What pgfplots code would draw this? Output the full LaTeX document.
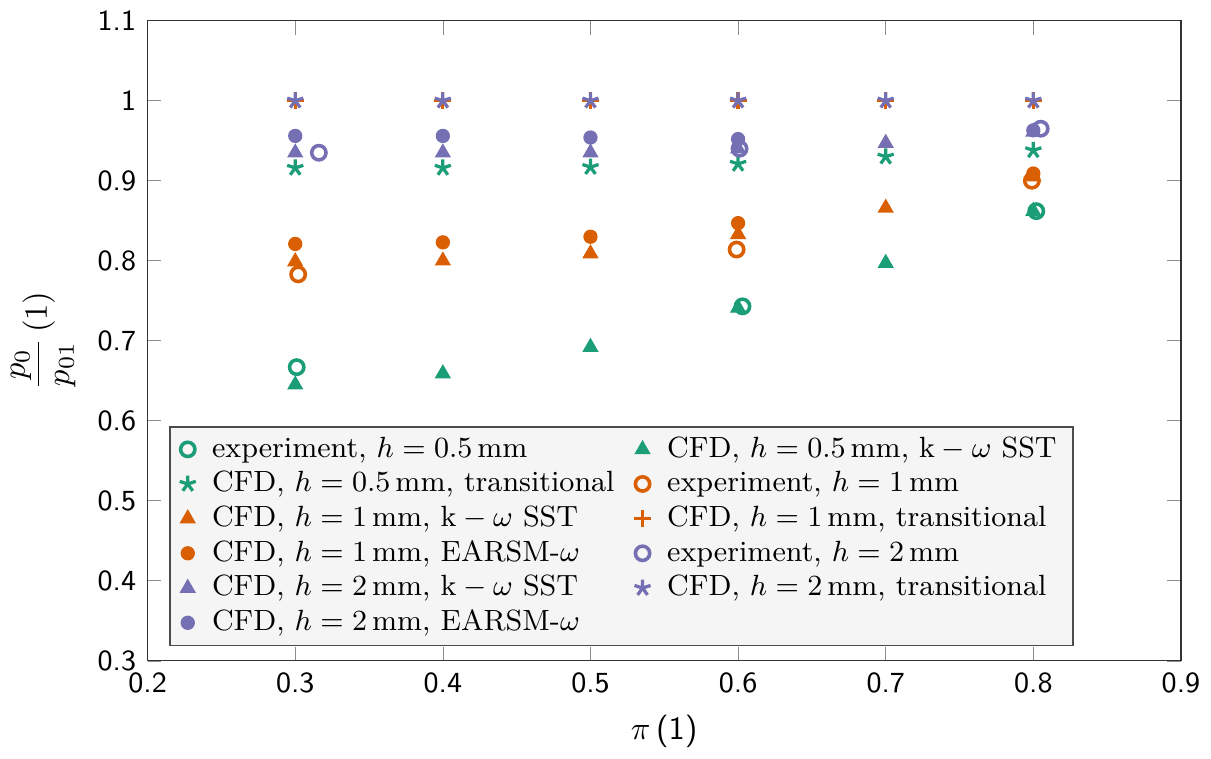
\documentclass[border=0pt]{standalone}
\usepackage{amsmath}
\usepackage{pgfplots}
\pgfplotsset{compat=1.18}
\usetikzlibrary{plotmarks}
\definecolor{cA}{HTML}{1B9E77}
\definecolor{cB}{HTML}{D95F02}
\definecolor{cC}{HTML}{7570B3}
\begin{document}
\begin{tikzpicture}
\begin{axis}[
  scale only axis,
  width=318pt, height=197pt,
  xmin=0.2, xmax=0.9, ymin=0.3, ymax=1.1,
  xtick={0.2,0.3,...,0.9}, ytick={0.3,0.4,...,1.1},
  axis line style={black!80},
  major tick style={black!45},
  tick label style={font=\sffamily\small},
  /pgf/number format/assume math mode=true,
  xlabel={$\pi$\,\textsf{(1)}},
  ylabel={$\dfrac{p_0}{p_{01}}\,(1)$},
  legend columns=2,
  legend cell align=left,
  legend style={at={(0.021,0.023)}, anchor=south west, fill=black!4, draw=black!70, font=\small, row sep=-1.2pt, inner ysep=1pt,
    /tikz/every odd column/.append style={column sep=3pt},
    /tikz/every even column/.append style={column sep=4pt}},
  only marks,
]
% exp 0.5
\addplot[cA, mark=o, mark size=2.2pt, line width=1.1pt] coordinates {(0.301,0.667) (0.603,0.743) (0.802,0.862)};
\addlegendentry{experiment, $h=0.5\,\mathrm{mm}$}
% CFD 0.5 SST
\addplot[cA, mark=triangle*, mark size=2.5pt] coordinates {(0.3,0.645) (0.4,0.659) (0.5,0.692) (0.6,0.741) (0.7,0.797) (0.8,0.862)};
\addlegendentry{CFD, $h=0.5\,\mathrm{mm}$, $\mathrm{k}-\omega$ SST}
% CFD 0.5 trans
\addplot[cA, mark=star, mark size=2.6pt, line width=1pt] coordinates {(0.3,0.916) (0.4,0.916) (0.5,0.917) (0.6,0.921) (0.7,0.930) (0.8,0.938)};
\addlegendentry{CFD, $h=0.5\,\mathrm{mm}$, transitional}
% exp 1
\addplot[cB, mark=o, mark size=2.2pt, line width=1.1pt] coordinates {(0.302,0.783) (0.599,0.814) (0.799,0.900)};
\addlegendentry{experiment, $h=1\,\mathrm{mm}$}
% CFD 1 SST
\addplot[cB, mark=triangle*, mark size=2.5pt] coordinates {(0.3,0.799) (0.4,0.800) (0.5,0.809) (0.6,0.833) (0.7,0.866) (0.8,0.905)};
\addlegendentry{CFD, $h=1\,\mathrm{mm}$, $\mathrm{k}-\omega$ SST}
% CFD 1 trans
\addplot[cB, mark=+, mark size=2.6pt, line width=1pt] coordinates {(0.3,1.0) (0.4,1.0) (0.5,1.0) (0.6,1.0) (0.7,1.0) (0.8,1.0)};
\addlegendentry{CFD, $h=1\,\mathrm{mm}$, transitional}
% CFD 1 EARSM
\addplot[cB, mark=*, mark size=2pt] coordinates {(0.3,0.821) (0.4,0.823) (0.5,0.830) (0.6,0.847) (0.8,0.909)};
\addlegendentry{CFD, $h=1\,\mathrm{mm}$, EARSM-$\omega$}
% exp 2
\addplot[cC, mark=o, mark size=2.2pt, line width=1.1pt] coordinates {(0.316,0.935) (0.601,0.940) (0.805,0.965)};
\addlegendentry{experiment, $h=2\,\mathrm{mm}$}
% CFD 2 SST
\addplot[cC, mark=triangle*, mark size=2.5pt] coordinates {(0.3,0.935) (0.4,0.935) (0.5,0.935) (0.6,0.940) (0.7,0.947) (0.8,0.961)};
\addlegendentry{CFD, $h=2\,\mathrm{mm}$, $\mathrm{k}-\omega$ SST}
% CFD 2 trans
\addplot[cC, mark=star, mark size=2.6pt, line width=1pt] coordinates {(0.3,1.0) (0.4,1.0) (0.5,1.0) (0.6,1.0) (0.7,1.0) (0.8,1.0)};
\addlegendentry{CFD, $h=2\,\mathrm{mm}$, transitional}
% CFD 2 EARSM
\addplot[cC, mark=*, mark size=2pt] coordinates {(0.3,0.956) (0.4,0.956) (0.5,0.954) (0.6,0.952) (0.8,0.963)};
\addlegendentry{CFD, $h=2\,\mathrm{mm}$, EARSM-$\omega$}
\end{axis}
\end{tikzpicture}
\end{document}
